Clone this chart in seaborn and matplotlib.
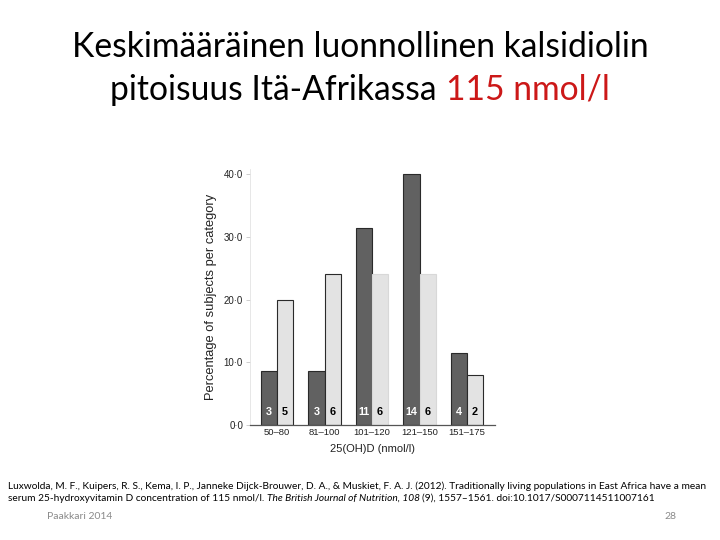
import matplotlib
matplotlib.use("Agg")
import matplotlib.pyplot as plt
import seaborn as sns
import pandas as pd
import numpy as np

categories = ["50–80", "81–100", "101–120", "121–150", "151–175"]
group_names = ["A", "B"]
pct_a = [8.6, 8.6, 31.4, 40.0, 11.4]
pct_b = [20.0, 24.0, 24.0, 24.0, 8.0]
n_a = [3, 3, 11, 14, 4]
n_b = [5, 6, 6, 6, 2]
yticks = [0, 10, 20, 30, 40]
ytick_labels = ["0·0", "10·0", "20·0", "30·0", "40·0"]

df = pd.DataFrame({
    "cat": categories * 2,
    "grp": [group_names[0]] * 5 + [group_names[1]] * 5,
    "pct": pct_a + pct_b,
    "n": n_a + n_b,
})

sns.set_theme(style="white")
plt.rcParams["font.family"] = ["Liberation Sans", "DejaVu Sans"]
plt.rcParams["text.color"] = "black"

W, H = 720, 540
fig = plt.figure(figsize=(7.2, 5.4), dpi=100)
ax = fig.add_axes([250 / W, 1 - 425 / H, 245 / W, 256 / H])

sns.barplot(data=df, x="cat", y="pct", hue="grp", order=categories,
            hue_order=group_names, palette=["#616161", "#e3e3e3"],
            width=0.68, edgecolor="#2a2a2a", linewidth=0.8, saturation=1,
            legend=False, ax=ax)

# lighter outlines on the two middle light bars, as in the source image
for i in (2, 3):
    ax.containers[1][i].set_edgecolor("#d8d8d8")

ax.set_ylim(0, 40.8)
ax.set_xlim(-0.57, 4.59)
ax.set_yticks(yticks)
ax.set_yticklabels(ytick_labels)
ax.tick_params(axis="y", length=3, width=0.5, color="#bbbbbb", labelsize=7,
               pad=2, left=True, labelcolor="#222222")
ax.tick_params(axis="x", length=0, labelsize=6.8, pad=2, labelcolor="#222222")
for s in ["top", "right"]:
    ax.spines[s].set_visible(False)
ax.spines["left"].set_color("#dddddd")
ax.spines["left"].set_linewidth(0.5)
ax.spines["bottom"].set_color("#555555")
ax.spines["bottom"].set_linewidth(0.9)
ax.set_xlabel("25(OH)D (nmol/l)", fontsize=8, labelpad=5, color="#222222")
ax.set_ylabel("Percentage of subjects per category", fontsize=9.3, labelpad=5,
              color="#222222")

# counts inside bars
for cont, counts, col in zip(ax.containers, [n_a, n_b], ["white", "black"]):
    for bar, c in zip(cont, counts):
        ax.text(bar.get_x() + bar.get_width() / 2, 1.2, str(c), ha="center",
                va="bottom", fontsize=7.8, fontweight="bold", color=col)

renderer = fig.canvas.get_renderer()


def space_width(**kw):
    t1 = fig.text(0, 0, "x x", **kw)
    t2 = fig.text(0, 0, "xx", **kw)
    w = t1.get_window_extent(renderer).width - t2.get_window_extent(renderer).width
    t1.remove(); t2.remove()
    return w


def draw_runs(runs, x, y_px, ha="left", **kw):
    texts = []
    widths = []
    for s, props in runs:
        t = fig.text(0, 1 - y_px / H, s, va="baseline", **kw, **props)
        texts.append(t)
        widths.append(t.get_window_extent(renderer).width)
    gap = space_width(**kw)
    total = sum(widths) + gap * (len(runs) - 1)
    cur = x - total / 2 if ha == "center" else x
    for t, w in zip(texts, widths):
        t.set_x(cur / W)
        cur += w + gap


title_font = dict(family=["Lato", "DejaVu Sans"], fontsize=24.2)
draw_runs([("Keskimääräinen luonnollinen kalsidiolin", {"color": "black"})], 360, 57,
          ha="center", **title_font)
draw_runs([("pitoisuus Itä-Afrikassa", {"color": "black"}),
           ("115 nmol/l", {"color": "#cc1818"})],
          360, 100, ha="center", **title_font)

cite_font = dict(family=["Lato", "DejaVu Sans"], fontsize=7.3, color="black")
draw_runs([("Luxwolda, M. F., Kuipers, R. S., Kema, I. P., Janneke Dijck-Brouwer, D. A., & Muskiet, F. A. J. (2012). Traditionally living populations in East Africa have a mean", {})],
          8, 489, **cite_font)
draw_runs([("serum 25-hydroxyvitamin D concentration of 115 nmol/l.", {}),
           ("The British Journal of Nutrition, 108", {"style": "italic"}),
           ("(9), 1557–1561. doi:10.1017/S0007114511007161", {})],
          8, 501, **cite_font)

fig.text(47 / W, 1 - 519 / H, "Paakkari 2014", fontsize=7.5, color="#8a8a8a",
         family=["Lato", "DejaVu Sans"], va="baseline")
fig.text(676 / W, 1 - 519 / H, "28", fontsize=7.5, color="#8a8a8a",
         family=["Lato", "DejaVu Sans"], va="baseline", ha="right")

fig.savefig("out.png", dpi=100)
